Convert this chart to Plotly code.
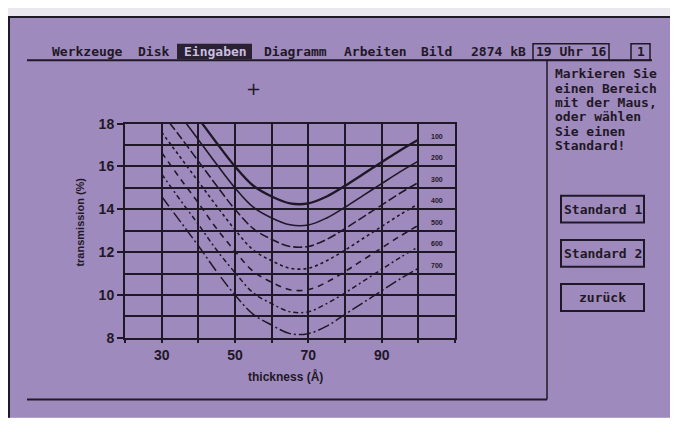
import plotly.graph_objects as go

# ---------------- data ----------------
thickness = [30, 35, 40, 45, 50, 55, 60, 65, 70, 75, 80, 85, 90, 95, 100]
series_names = ["100", "200", "300", "400", "500", "600", "700"]
t100 = [20.5, 19.4, 18.25, 17.1, 16.0, 15.1, 14.6, 14.28, 14.28, 14.6, 15.1, 15.65, 16.2, 16.75, 17.25]
t200 = [19.5, 18.4, 17.25, 16.1, 15.0, 14.1, 13.6, 13.28, 13.27, 13.6, 14.1, 14.65, 15.2, 15.75, 16.25]
t300 = [18.5, 17.4, 16.25, 15.1, 14.0, 13.1, 12.6, 12.27, 12.27, 12.6, 13.1, 13.65, 14.2, 14.75, 15.25]
t400 = [17.6, 16.45, 15.3, 14.15, 13.05, 12.1, 11.6, 11.25, 11.25, 11.6, 12.1, 12.65, 13.2, 13.75, 14.25]
t500 = [16.65, 15.45, 14.3, 13.1, 12.05, 11.1, 10.6, 10.25, 10.25, 10.6, 11.1, 11.65, 12.2, 12.75, 13.25]
t600 = [15.65, 14.45, 13.3, 12.1, 11.05, 10.1, 9.6, 9.22, 9.22, 9.6, 10.1, 10.65, 11.2, 11.75, 12.25]
t700 = [14.6, 13.45, 12.3, 11.1, 10.0, 9.1, 8.6, 8.2, 8.2, 8.55, 9.1, 9.65, 10.2, 10.75, 11.25]
series_values = [t100, t200, t300, t400, t500, t600, t700]

x_tick_vals = [20, 30, 40, 50, 60, 70, 80, 90, 100, 110]
x_tick_labels = ["", "30", "", "50", "", "70", "", "90", "", ""]
y_tick_vals = [8, 10, 12, 14, 16, 18]
y_tick_labels = ["8", "10", "12", "14", "16", "18"]

menu_items = ["Werkzeuge", "Disk", "Eingaben", "Diagramm", "Arbeiten", "Bild", "2874 kB"]
panel_lines = ["Markieren Sie", "einen Bereich", "mit der Maus,", "oder wählen", "Sie einen", "Standard!"]
buttons = ["Standard 1", "Standard 2", "zurück"]

# ---------------- styling ----------------
# the page body has an 8px margin, so the figure sits at window (8, 8)
OFF = 8
W, H = 670, 410
BG = "#9f8abd"
INK = "#1f1826"
MONO = "DejaVu Sans Mono"
SANS = "Liberation Sans"


def px(x):
    return (x - OFF) / W


def py(y):
    return 1 - (y - OFF) / H


def text(x, y, s, size=13, family=MONO, color=INK, xanchor="center", bold=True, angle=0):
    return dict(x=px(x), y=py(y), xref="paper", yref="paper", text=s, showarrow=False,
                xanchor=xanchor, yanchor="middle", textangle=angle,
                font=dict(family=family, size=size, color=color, weight="bold" if bold else "normal"))


dashes = ["solid", "solid", "9px,3px", "3px,3px", "6px,5px", "5px,3px,2px,3px", "12px,3px,2px,3px"]
widths = [2.4, 1.6, 1.6, 1.6, 1.6, 1.5, 1.5]

fig = go.Figure()
for name, vals, d, w in zip(series_names, series_values, dashes, widths):
    fig.add_trace(go.Scatter(x=thickness, y=vals, mode="lines", name=name,
                             line=dict(color=INK, width=w, dash=d, shape="spline", smoothing=1.0),
                             showlegend=False, hoverinfo="skip"))

annotations = []
for name, vals in zip(series_names, series_values):
    annotations.append(dict(x=105, y=vals[-1] + 0.15, xref="x", yref="y", text=name, showarrow=False,
                            xanchor="center", yanchor="middle",
                            font=dict(family=SANS, size=7, color=INK, weight="bold")))

annotations.append(text(80, 223, "transmission (%)", size=11, family=SANS, angle=-90))
annotations.append(text(285, 383, "thickness (Å)", size=12, family=SANS))
annotations.append(text(253, 83, "+", size=18, family="DejaVu Sans", bold=False))

menu_x = [50, 136, 182, 262, 342, 419, 469]
for item, mx in zip(menu_items, menu_x):
    col = "#cbbde0" if item == "Eingaben" else INK
    annotations.append(text(mx, 45, item, color=col, xanchor="left"))
annotations.append(text(571, 45, "19 Uhr 16"))
annotations.append(text(640.5, 45, "1"))

for i, line in enumerate(panel_lines):
    annotations.append(text(553, 68 + 15 * i, line, xanchor="left"))

shapes = []


def line_shape(x0, y0, x1, y1, w=2):
    return dict(type="line", xref="paper", yref="paper", x0=px(x0), x1=px(x1), y0=py(y0), y1=py(y1),
                line=dict(color=INK, width=w), layer="below")


def rect_shape(x0, y0, x1, y1, fill=None, w=2):
    d = dict(type="rect", xref="paper", yref="paper", x0=px(x0), x1=px(x1), y0=py(y1), y1=py(y0),
             line=dict(color=INK, width=w), layer="below")
    if fill:
        d["fillcolor"] = fill
        d["line"] = dict(width=0)
    return d


shapes.append(rect_shape(8, 8, 678, 426, fill=BG))
shapes.append(line_shape(8, 9, 678, 9))
shapes.append(line_shape(9, 8, 9, 426))
shapes.append(line_shape(27, 54, 652, 54))
shapes.append(rect_shape(177, 37, 252, 53, fill="#2a2232"))
shapes.append(rect_shape(533, 37, 609, 54, w=1.5))
shapes.append(rect_shape(631, 37, 650, 54, w=1.5))
shapes.append(line_shape(547, 54, 547, 407, w=1.5))
shapes.append(line_shape(27, 407, 547, 407))
for i, b in enumerate(buttons):
    y0 = 195 + 46 * i
    shapes.append(rect_shape(561, y0, 644, y0 + 28))
    annotations.append(text(602.5, y0 + 14, b))

grid_w = 1.6
fig.update_layout(
    width=W, height=H, margin=dict(l=0, r=0, t=0, b=0),
    paper_bgcolor="#ebe7ee", plot_bgcolor="rgba(0,0,0,0)",
    xaxis=dict(domain=[px(125), px(455)], range=[20, 110], tickmode="array",
               tickvals=x_tick_vals, ticktext=x_tick_labels, ticks="outside", ticklen=3, tickwidth=1.5,
               tickcolor=INK, showgrid=True, gridcolor=INK, gridwidth=grid_w, zeroline=False,
               showline=True, linecolor=INK, linewidth=2, mirror=True,
               tickfont=dict(family=SANS, size=14, color=INK, weight="bold")),
    yaxis=dict(domain=[py(343), py(120)], range=[8, 18], tickmode="array",
               tickvals=y_tick_vals, ticktext=y_tick_labels, ticks="outside", ticklen=6, tickwidth=1.5,
               tickcolor=INK, showgrid=True, gridcolor=INK, gridwidth=grid_w, zeroline=False,
               showline=True, linecolor=INK, linewidth=2, mirror=True,
               minor=dict(tickmode="linear", tick0=8, dtick=1, showgrid=True, gridcolor=INK, gridwidth=grid_w,
                          ticks=""),
               tickfont=dict(family=SANS, size=14, color=INK, weight="bold")),
    annotations=annotations, shapes=shapes,
)

fig.write_html("out.html")
